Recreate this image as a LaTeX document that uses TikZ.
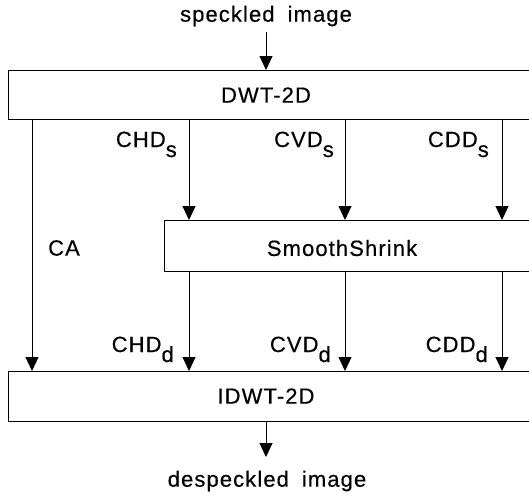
\documentclass[tikz,border=0pt]{standalone}
\usepackage{fontspec}
\setmainfont{Liberation Sans}[LetterSpace=5,WordSpace=1.8,FakeBold=0.4]
\usetikzlibrary{arrows.meta}
\begin{document}
\begin{tikzpicture}[x=1pt,y=-1pt,
  box/.style={draw,line width=1pt,rectangle,inner sep=0pt,anchor=north west},
  lbl/.style={font=\fontsize{22}{24}\selectfont,inner sep=0pt},
  arr/.style={line width=1pt,-{Triangle[width=13pt,length=14pt]}},
  sub/.style={lbl,anchor=base east}]
\useasboundingbox (0,0) rectangle (529,499);
\clip (0,0) rectangle (529,499);
\fill[white] (0,0) rectangle (529,499);
% columns
\coordinate (c0) at (266,0);
\coordinate (c1) at (32,0);
\coordinate (c2) at (189,0);
\coordinate (c3) at (345,0);
\coordinate (c4) at (502,0);
% boxes
\node[box,minimum width=540pt,minimum height=49pt] (dwt) at (8,70) {};
\node[box,minimum width=400pt,minimum height=51pt] (ss) at (164,220) {};
\node[box,minimum width=540pt,minimum height=50pt] (idwt) at (8,371) {};
% texts
\node[lbl] (in) at (266,16) {speckled image};
\node[lbl] (dwtT) at (266,95) {DWT-2D};
\node[lbl] (ssT) at (342,248) {SmoothShrink};
\node[lbl] (idwtT) at (266,396) {IDWT-2D};
\node[lbl] (out) at (267,481) {despeckled image};
\node[lbl] (ca) at (64,248) {CA};
\node[sub] (chds) at (177,147) {CHD\raisebox{-10pt}{s}};
\node[sub] (cvds) at (334,147) {CVD\raisebox{-10pt}{s}};
\node[sub] (cdds) at (489,147) {CDD\raisebox{-10pt}{s}};
\node[sub] (chdd) at (174,352) {CHD\raisebox{-10pt}{d}};
\node[sub] (cvdd) at (331,352) {CVD\raisebox{-10pt}{d}};
\node[sub] (cddd) at (488,352) {CDD\raisebox{-10pt}{d}};
% connectors
\coordinate (inbot) at (266,32);
\draw[arr] (inbot) -- (dwt.north -| c0);
\draw[arr] (dwt.south -| c1) -- (idwt.north -| c1);
\draw[arr] (dwt.south -| c2) -- (ss.north -| c2);
\draw[arr] (dwt.south -| c3) -- (ss.north -| c3);
\draw[arr] (dwt.south -| c4) -- (ss.north -| c4);
\draw[arr] (ss.south -| c2) -- (idwt.north -| c2);
\draw[arr] (ss.south -| c3) -- (idwt.north -| c3);
\draw[arr] (ss.south -| c4) -- (idwt.north -| c4);
\coordinate (outtop) at (266,457);
\draw[arr] (idwt.south -| c0) -- (outtop);
\end{tikzpicture}
\end{document}
